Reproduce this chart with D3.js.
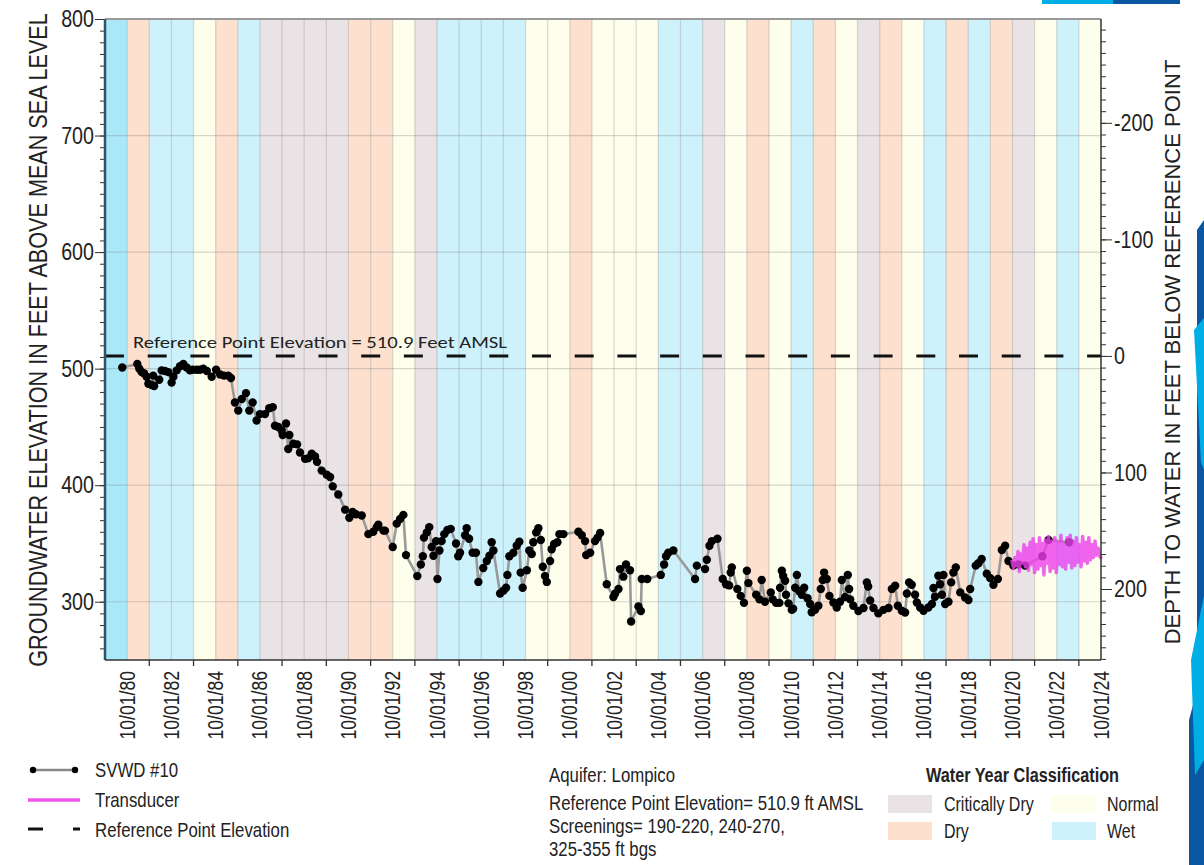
<!DOCTYPE html>
<html><head><meta charset="utf-8">
<script src="https://cdn.jsdelivr.net/npm/d3@7"></script>
<style>
body{margin:0;background:#fff;}
svg{display:block;}
.nar{font-family:"Liberation Sans Narrow","Arial Narrow","Liberation Sans",Arial,sans-serif;}
</style></head>
<body>
<svg id="c" width="1204" height="865"></svg>
<script>
// ---- data ----
const waterYears = d3.range(1980, 2025);
const yearClass = ["Wet","Dry","Wet","Wet","Normal","Dry","Wet","Critically Dry","Critically Dry","Critically Dry",
 "Critically Dry","Dry","Dry","Normal","Critically Dry","Wet","Wet","Wet","Wet","Normal",
 "Normal","Dry","Normal","Normal","Normal","Wet","Wet","Critically Dry","Normal","Dry",
 "Normal","Wet","Dry","Normal","Critically Dry","Dry","Normal","Wet","Dry","Wet",
 "Dry","Critically Dry","Normal","Wet","Normal"];
const xTickYears = d3.range(1980, 2025, 2);
const xTickLabels = xTickYears.map(y => "10/01/" + String(y % 100).padStart(2, "0"));
const leftTicks = [300, 400, 500, 600, 700, 800];
const rightTicks = [-200, -100, 0, 100, 200];
const refElev = 510.9;
// [decimal year, groundwater elevation ft AMSL]
const svwdData = [
[1980.53,501],[1981.21,504],[1981.30,500],[1981.41,497],[1981.51,496],[1981.63,493],[1981.71,487],[1981.86,486],
[1981.93,494],[1981.97,485],[1982.20,490.5],[1982.31,498.5],[1982.46,498],[1982.61,497],[1982.76,488],[1982.84,493],
[1982.99,498.5],[1983.14,502],[1983.29,504],[1983.44,501],[1983.59,498.5],[1983.71,499],[1983.89,499],[1984.04,499],
[1984.19,500],[1984.35,498],[1984.57,493],[1984.77,499],[1984.95,495],[1985.13,494],[1985.32,494],[1985.44,492],
[1985.62,471],[1985.77,464],[1985.93,474],[1986.12,479],[1986.27,464],[1986.42,471],[1986.60,455.5],[1986.75,461],
[1986.98,461],[1987.17,466],[1987.33,467],[1987.43,451],[1987.58,450],[1987.73,447],[1987.78,443],[1987.93,453],
[1988.03,431],[1988.08,443],[1988.26,435.5],[1988.43,435],[1988.56,428],[1988.79,422.6],[1988.92,423],[1989.09,427],
[1989.24,424.6],[1989.33,420],[1989.54,412.5],[1989.77,409],[1989.92,407],[1990.04,399],[1990.29,392],[1990.60,379],
[1990.79,372],[1990.94,377],[1991.09,375],[1991.35,374],[1991.65,358],[1991.87,360],[1992.03,364],[1992.10,366],
[1992.33,361],[1992.40,361],[1992.75,347],[1992.93,367],[1993.08,371],[1993.23,374.5],[1993.35,340],[1993.86,322],
[1994.02,332],[1994.11,339],[1994.16,355],[1994.29,359.5],[1994.40,364],[1994.51,347],[1994.59,339.5],[1994.71,352],
[1994.77,319.5],[1994.86,344],[1994.96,352],[1995.08,358],[1995.22,361.6],[1995.37,362.5],[1995.61,350],[1995.71,339],
[1995.79,342],[1996.02,357],[1996.09,363],[1996.20,354],[1996.36,342],[1996.51,342],[1996.62,317],[1996.84,329],
[1997.00,335],[1997.12,339.5],[1997.22,351],[1997.30,344],[1997.60,307],[1997.75,309.5],[1997.87,312],[1997.93,323],
[1998.02,339],[1998.20,342],[1998.35,348],[1998.47,351.5],[1998.53,325],[1998.62,312],[1998.81,327],[1998.92,344],
[1999.03,341],[1999.10,351],[1999.23,359.5],[1999.33,363],[1999.44,353],[1999.53,330],[1999.63,322],[1999.71,317],
[1999.86,335],[1999.93,345],[2000.04,349.6],[2000.19,351],[2000.28,358],[2000.46,358],[2001.14,360],[2001.29,357],
[2001.44,352],[2001.49,340],[2001.67,342],[2001.89,352],[2002.00,355],[2002.12,359],[2002.42,315],[2002.72,304],
[2002.80,307],[2002.95,311],[2003.02,328],[2003.17,321.5],[2003.29,332],[2003.47,327],[2003.52,283],[2003.85,296],
[2003.96,292],[2004.00,319.5],[2004.25,319.5],[2004.86,323],[2005.01,332],[2005.10,339],[2005.20,342],[2005.43,344],
[2006.41,319.5],[2006.49,331],[2006.86,328],[2006.94,336],[2007.06,348],[2007.17,352],[2007.42,354],[2007.66,319.5],
[2007.81,315],[2007.95,314],[2008.02,325],[2008.07,329.5],[2008.32,311],[2008.47,305],[2008.62,299],[2008.75,326.6],
[2008.82,316],[2009.17,306],[2009.32,302],[2009.42,318.6],[2009.57,300],[2009.83,308],[2009.92,302],[2010.07,299],
[2010.22,299],[2010.25,312],[2010.33,326.6],[2010.39,322],[2010.48,318],[2010.52,306],[2010.63,298.6],[2010.78,293],
[2010.84,294],[2010.93,312],[2011.01,323],[2011.12,309],[2011.23,306],[2011.34,312],[2011.49,303],[2011.61,298],
[2011.68,291],[2011.83,293],[2011.98,296.6],[2012.09,311],[2012.18,318.6],[2012.24,325],[2012.36,319.5],[2012.48,305],
[2012.66,299.4],[2012.81,295],[2012.96,300],[2013.04,318.6],[2013.19,304],[2013.31,323],[2013.37,311],[2013.42,302],
[2013.56,296.6],[2013.79,292],[2014.02,294.6],[2014.17,316.6],[2014.23,313],[2014.32,301],[2014.47,294.6],[2014.69,290],
[2014.92,293],[2015.15,294.6],[2015.30,311],[2015.45,313.7],[2015.57,296.6],[2015.75,292.3],[2015.90,290.8],[2015.98,307],
[2016.08,316.6],[2016.20,314.6],[2016.35,306],[2016.43,299.4],[2016.58,295],[2016.73,292.3],[2016.95,295],[2017.11,298],
[2017.18,311.8],[2017.25,304.3],[2017.40,322.3],[2017.48,315],[2017.56,306],[2017.63,323],[2017.71,298],[2017.86,300],
[2017.98,316.6],[2018.08,325],[2018.19,329.5],[2018.39,308],[2018.61,303.7],[2018.76,301.5],[2018.84,311],[2019.09,331],
[2019.21,333],[2019.36,336.7],[2019.59,324],[2019.74,320.4],[2019.89,314.6],[2020.09,319.5],[2020.27,344.4],[2020.42,348],
[2020.57,335],[2020.79,331],[2021.02,332],[2021.32,331],[2022.10,339],[2022.38,353],[2023.31,351]
];
// [decimal year, transducer elevation ft AMSL]
const transducerData = [
[2020.72,336],[2020.80,329],[2020.86,338],[2020.93,331],[2021.00,343],[2021.06,326],[2021.12,341],[2021.20,333],
[2021.27,349],[2021.33,330],[2021.41,346],[2021.47,327],[2021.55,351],[2021.60,332],[2021.68,354],[2021.75,325],
[2021.82,349],[2021.90,328],[2021.97,355],[2022.04,331],[2022.10,350],[2022.17,323],[2022.24,353],[2022.31,333],
[2022.38,356],[2022.45,326],[2022.52,352],[2022.59,329],[2022.66,355],[2022.73,325],[2022.80,351],[2022.87,332],
[2022.94,357],[2023.01,330],[2023.08,349],[2023.15,328],[2023.22,355],[2023.29,334],[2023.36,357],[2023.43,329],
[2023.50,352],[2023.57,331],[2023.64,355],[2023.71,334],[2023.78,349],[2023.85,330],[2023.92,356],[2023.99,335],
[2024.06,351],[2024.13,333],[2024.20,355],[2024.27,336],[2024.34,349],[2024.41,338],[2024.48,352],[2024.55,340],
[2024.62,346],[2024.69,339],[2024.78,337]
];
const legendItems = ["SVWD #10", "Transducer", "Reference Point Elevation"];
const infoLines = ["Aquifer: Lompico", "Reference Point Elevation= 510.9 ft AMSL", "Screenings= 190-220, 240-270,", "325-355 ft bgs"];
const classOrder = ["Critically Dry", "Normal", "Dry", "Wet"];

// ---- layout / style ----
const L = 105, R = 1101, T = 19, B = 660;
const colors = {"Wet":"#cdf2fc","Dry":"#fde0ce","Normal":"#fefeec","Critically Dry":"#e9e3e5"};
const firstWet = "#a8e8f9";
const svg = d3.select("#c");
const x = d3.scaleLinear().domain([1979.75, 2024.75]).range([L, R]);
const y = d3.scaleLinear().domain([250, 800]).range([B, T]);
const yR = d3.scaleLinear().domain([refElev - 250, refElev - 800]).range([B, T]);

// decorations (slide artwork)
svg.append("rect").attr("x",1042).attr("y",0).attr("width",71).attr("height",4).attr("fill","#00aee6");
svg.append("rect").attr("x",1113).attr("y",0).attr("width",67).attr("height",4).attr("fill","#0a56a0");
svg.append("polygon").attr("points","1197,230 1204,220 1204,865 1189,865 1189,720 1197,690").attr("fill","#0a56a0");
svg.append("polygon").attr("points","1194,330 1204,318 1204,470 1201,462").attr("fill","#00aee6");
svg.append("polygon").attr("points","1191,660 1204,595 1204,760 1195,775").attr("fill","#00aee6");

// bands
svg.append("g").selectAll("rect").data(waterYears).join("rect")
  .attr("x", d => x(d - 0.25)).attr("y", T)
  .attr("width", d => x(d + 0.75) - x(d - 0.25)).attr("height", B - T)
  .attr("fill", (d, i) => i === 0 ? firstWet : colors[yearClass[i]]);
svg.append("g").selectAll("line").data(waterYears.slice(1)).join("line")
  .attr("x1", d => x(d - 0.25)).attr("x2", d => x(d - 0.25)).attr("y1", T).attr("y2", B)
  .attr("stroke", "rgba(120,120,120,0.28)").attr("stroke-width", 1.2);
// horizontal grid
svg.append("g").selectAll("line").data(leftTicks.filter(v => v < 800)).join("line")
  .attr("x1", L).attr("x2", R).attr("y1", d => y(d)).attr("y2", d => y(d))
  .attr("stroke", "rgba(120,120,120,0.3)").attr("stroke-width", 1.2);
svg.append("line").attr("x1", L).attr("x2", R).attr("y1", T).attr("y2", T).attr("stroke", "#9a9a9a").attr("stroke-width", 2);

// reference line
svg.append("line").attr("x1", L).attr("x2", R).attr("y1", y(refElev)).attr("y2", y(refElev))
  .attr("stroke", "#111").attr("stroke-width", 3).attr("stroke-dasharray", "19,23.7");
svg.append("text").attr("x", 133).attr("y", 348).attr("font-family", "Carlito,'Open Sans',sans-serif")
  .attr("font-size", 16).attr("fill", "#222").attr("textLength", 374).attr("lengthAdjust", "spacingAndGlyphs")
  .text("Reference Point Elevation = " + refElev + " Feet AMSL");

// SVWD series
svg.append("path").datum(svwdData)
  .attr("d", d3.line().x(d => x(d[0])).y(d => y(d[1])))
  .attr("fill", "none").attr("stroke", "#999").attr("stroke-width", 2.6);
svg.append("g").selectAll("circle").data(svwdData).join("circle")
  .attr("cx", d => x(d[0])).attr("cy", d => y(d[1])).attr("r", 4.2).attr("fill", "#000");
// transducer
svg.append("path").datum(transducerData)
  .attr("d", d3.line().x(d => x(d[0])).y(d => y(d[1])))
  .attr("fill", "none").attr("stroke", "#ee3eee").attr("stroke-opacity", 0.8).attr("stroke-width", 3.5)
  .attr("stroke-linejoin", "round");

// left axis
const gl = svg.append("g").attr("transform", `translate(${L},0)`);
gl.call(d3.axisLeft(y).tickValues(d3.range(260, 801, 10)).tickSize(5).tickFormat(""));
gl.call(g => g.selectAll(".tick line").attr("stroke", "#333"));
const gl2 = svg.append("g").attr("transform", `translate(${L},0)`).attr("class", "nar");
gl2.call(d3.axisLeft(y).tickValues(leftTicks).tickSize(10).tickPadding(1).tickFormat(d => String(d)));
gl2.selectAll(".tick text").attr("font-size", 24).attr("fill", "#222").attr("font-family", null);
gl2.selectAll(".tick line").attr("stroke", "#333");
svg.selectAll(".domain").remove();
svg.append("line").attr("x1", L).attr("x2", L).attr("y1", T).attr("y2", B).attr("stroke", "#2f5569").attr("stroke-width", 2.5);

// right axis
const gr = svg.append("g").attr("transform", `translate(${R},0)`);
gr.call(d3.axisRight(yR).tickValues(d3.range(-280, 261, 10)).tickSize(5).tickFormat(""));
gr.selectAll(".tick line").attr("stroke", "#333");
const gr2 = svg.append("g").attr("transform", `translate(${R},0)`).attr("class", "nar");
gr2.call(d3.axisRight(yR).tickValues(rightTicks).tickSize(11).tickPadding(2).tickFormat(d => String(d)));
gr2.selectAll(".tick text").attr("font-size", 24).attr("fill", "#222").attr("font-family", null);
gr2.selectAll(".tick line").attr("stroke", "#333");
gr.select(".domain").remove(); gr2.select(".domain").remove();
svg.append("line").attr("x1", R).attr("x2", R).attr("y1", T).attr("y2", B).attr("stroke", "#333").attr("stroke-width", 1.5);

// bottom axis
svg.append("line").attr("x1", L).attr("x2", R).attr("y1", B).attr("y2", B).attr("stroke", "#333").attr("stroke-width", 1.5);
svg.append("g").selectAll("line").data(d3.range(1981, 2024, 2)).join("line")
  .attr("x1", d => x(d + 0.75)).attr("x2", d => x(d + 0.75)).attr("y1", B).attr("y2", B + 6)
  .attr("stroke", "#333").attr("stroke-width", 1.3);
svg.append("g").attr("class", "nar").selectAll("text").data(xTickYears).join("text")
  .attr("transform", d => `translate(${x(d + 0.75) + 7.5},${B + 11}) rotate(-90)`)
  .attr("text-anchor", "end").attr("font-size", 21.5).attr("fill", "#222")
  .text((d, i) => xTickLabels[i]);

// axis titles
svg.append("text").attr("class", "nar").attr("data-len", 654).attr("transform", "translate(47,340) rotate(-90)")
  .attr("text-anchor", "middle").attr("font-size", 25).attr("fill", "#222")
  .text("GROUNDWATER ELEVATION IN FEET ABOVE MEAN SEA LEVEL");
svg.append("text").attr("class", "nar").attr("data-len", 585).attr("transform", "translate(1180,352) rotate(-90)")
  .attr("text-anchor", "middle").attr("font-size", 22).attr("fill", "#222")
  .text("DEPTH TO WATER IN FEET BELOW REFERENCE POINT");

// legend (series)
const lg = svg.append("g").attr("class", "nar");
lg.append("line").attr("x1", 33).attr("x2", 75).attr("y1", 770).attr("y2", 770).attr("stroke", "#888").attr("stroke-width", 2.5);
lg.append("circle").attr("cx", 33).attr("cy", 770).attr("r", 3.2).attr("fill", "#000");
lg.append("circle").attr("cx", 75).attr("cy", 770).attr("r", 3.2).attr("fill", "#000");
lg.append("line").attr("x1", 28).attr("x2", 80).attr("y1", 800).attr("y2", 800).attr("stroke", "#ee55ee").attr("stroke-width", 3.5);
lg.append("line").attr("x1", 28).attr("x2", 80).attr("y1", 829).attr("y2", 829).attr("stroke", "#111").attr("stroke-width", 3).attr("stroke-dasharray", "15,30,7");
lg.selectAll("text").data(legendItems).join("text")
  .attr("x", 95).attr("y", (d, i) => 777 + i * 30).attr("font-size", 20.5).attr("fill", "#222").text(d => d);

// info block
svg.append("g").attr("class", "nar").selectAll("text").data(infoLines).join("text")
  .attr("x", 549).attr("y", (d, i) => [782, 810, 833, 856][i]).attr("font-size", 20.5).attr("fill", "#222").text(d => d);

// water year classification legend
const wl = svg.append("g").attr("class", "nar");
wl.append("text").attr("x", 926).attr("y", 782).attr("font-size", 19.8).attr("font-weight", "bold").attr("fill", "#222").text("Water Year Classification");
const pos = [[888, 795, 944], [1052, 795, 1107], [888, 822, 944], [1052, 822, 1107]];
classOrder.forEach((c, i) => {
  const [sx, sy, tx] = pos[i];
  wl.append("rect").attr("x", sx).attr("y", sy).attr("width", 44).attr("height", 18).attr("fill", colors[c]);
  wl.append("text").attr("x", tx).attr("y", sy + 16).attr("font-size", 19.5).attr("fill", "#222").text(c);
});

// emulate a condensed face (horizontal scale) when no narrow font is installed
const probe = svg.append("text").attr("font-family", "Liberation Sans Narrow,Arial Narrow,monospace").attr("font-size", 20).text("ABCDEFGH");
const probe2 = svg.append("text").attr("font-family", "monospace").attr("font-size", 20).text("ABCDEFGH");
const hasNarrow = Math.abs(probe.node().getComputedTextLength() - probe2.node().getComputedTextLength()) > 0.5;
probe.remove(); probe2.remove();
svg.selectAll(".nar text, text.nar").each(function(){
  const el = d3.select(this);
  const target = el.attr("data-len");
  if (hasNarrow && !target) return;
  const w = this.getComputedTextLength();
  const sx = target ? (+target / w) : 0.82;
  const tx = +el.attr("x") || 0, ty = +el.attr("y") || 0;
  const tr = el.attr("transform") || "";
  el.attr("x", null).attr("y", null).attr("transform", `${tr} translate(${tx},${ty}) scale(${sx},1)`);
});
</script>
</body></html>
